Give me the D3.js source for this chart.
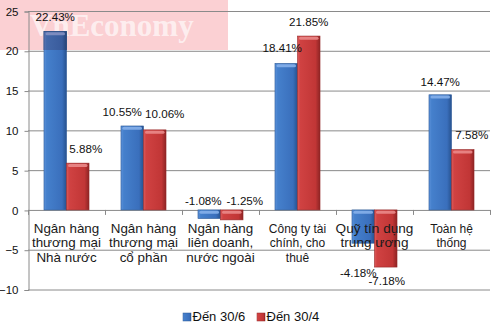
<!DOCTYPE html>
<html>
<head>
<meta charset="utf-8">
<script src="https://cdn.jsdelivr.net/npm/d3@7"></script>
<style>
  html, body { margin: 0; padding: 0; background: #fff; }
  svg { display: block; }
  text { font-family: "Liberation Sans", Arial, sans-serif; }
</style>
</head>
<body>
<svg id="chart" width="494" height="327"></svg>
<script>
// Categories (multi-line labels) and the two series, in percent
const categories = [
  "Ngân hàng|thương mại|Nhà nước",
  "Ngân hàng|thương mại|cổ phần",
  "Ngân hàng|liên doanh,|nước ngoài",
  "Công ty tài|chính, cho|thuê",
  "Quỹ tín dụng|trung ương",
  "Toàn hệ|thống"
];
const seriesNames = ["Đến 30/6", "Đến 30/4"];
const values306 = [22.43, 10.55, -1.08, 18.41, -4.18, 14.47];
const values304 = [5.88, 10.06, -1.25, 21.85, -7.18, 7.58];
const yTicks = [-10, -5, 0, 5, 10, 15, 20, 25];

// Label nudges (pixels) so the value labels sit clear of each other
const labelNudge = [
  [[0, -10], [-10, -10], [-6, null], [-4, -11], [-5, 34], [0, -9]],
  [[8, -10], [10, -12], [13, null], [0, -10], [1, 18], [9, -11]]
];
const catFontSize = [13.4, 13.4, 13.4, 12, 13.6, 12];

const svg = d3.select("#chart");
const margin = { left: 28, right: 4, top: 11, bottom: 37.5 };
const W = 494, H = 327;
const wm = { x: 0, y: 0, w: 228, h: 50, color: "#fbd0d3" };

const x0 = d3.scaleBand().domain(categories).range([margin.left, W - margin.right]).padding(0);
const x1 = d3.scaleBand().domain(seriesNames).range([0, x0.bandwidth()]).paddingInner(0).paddingOuter(0.71);
const y = d3.scaleLinear().domain([-10, 25]).range([H - margin.bottom, margin.top]);

// Gradients for the bevelled bars, plus versions washed by the pink band
const defs = svg.append("defs");
const wmRgb = d3.rgb(wm.color);
function multiply(c) {
  const r = d3.rgb(c);
  return d3.rgb(r.r * wmRgb.r / 255, r.g * wmRgb.g / 255, r.b * wmRgb.b / 255).formatHex();
}
function barGradient(id, stops) {
  const g = defs.append("linearGradient").attr("id", id).attr("x1", "0").attr("x2", "1").attr("y1", "0").attr("y2", "0");
  stops.forEach(([o, c]) => g.append("stop").attr("offset", o).attr("stop-color", c));
}
const gradStops = [
  [[0, "#5d92da"], [0.12, "#4580cc"], [0.8, "#3a6fbc"], [1, "#27528f"]],
  [[0, "#dc5a5a"], [0.12, "#d04242"], [0.8, "#c13636"], [1, "#8e2424"]]
];
gradStops.forEach((s, i) => {
  barGradient("g" + i, s);
  barGradient("t" + i, s.map(([o, c]) => [o, multiply(c)]));
});
const capColor = ["#86b0ea", "#ea8a8a"];
const edgeColor = ["#2b5896", "#952727"];
defs.append("clipPath").attr("id", "wmclip")
  .append("rect").attr("x", wm.x).attr("y", wm.y).attr("width", wm.w).attr("height", wm.h);

// Watermark band and its lettering sit under the plot
svg.append("rect").attr("x", wm.x).attr("y", wm.y).attr("width", wm.w).attr("height", wm.h)
  .attr("fill", wm.color);
svg.append("text")
  .attr("x", 30).attr("y", 36)
  .attr("font-weight", "bold").attr("font-size", 31)
  .attr("fill", "#ffffff").attr("fill-opacity", 0.65)
  .style("font-family", "'Liberation Serif', 'Times New Roman', serif")
  .text("VnEconomy");

// Gridlines
svg.append("g").selectAll("line").data(yTicks).join("line")
  .attr("x1", margin.left).attr("x2", W - margin.right)
  .attr("y1", d => y(d) + 0.5).attr("y2", d => y(d) + 0.5)
  .attr("stroke", "#8a8a8a").attr("stroke-width", 1);

// Left axis
const yAxis = d3.axisLeft(y).tickValues(yTicks).tickSize(4).tickPadding(6).tickFormat(d3.format("d"));
const ya = svg.append("g").attr("transform", `translate(${margin.left + 0.5},0.5)`).call(yAxis);
ya.select(".domain").attr("stroke", "#8a8a8a");
ya.selectAll(".tick line").attr("stroke", "#8a8a8a");
ya.selectAll(".tick text").attr("font-size", 11.5).attr("fill", "#111").attr("font-family", "Liberation Sans, Arial, sans-serif");

// Category separator ticks on the zero line
const bounds = categories.map(c => x0(c)).concat([W - margin.right]);
svg.append("g").selectAll("line").data(bounds).join("line")
  .attr("x1", d => Math.round(d) + 0.5).attr("x2", d => Math.round(d) + 0.5)
  .attr("y1", y(0)).attr("y2", y(0) + 5)
  .attr("stroke", "#8a8a8a");

// Bars
const series = [values306, values304];
series.forEach((vals, si) => {
  const g = svg.append("g");
  vals.forEach((v, ci) => {
    const cat = categories[ci];
    const bx = x0(cat) + x1(seriesNames[si]);
    const bw = x1.bandwidth();
    const top = y(Math.max(0, v));
    const bot = y(Math.min(0, v));
    const drawBar = (sel, fill, edge, cap) => {
      sel.append("rect")
        .attr("x", bx).attr("y", top).attr("width", bw).attr("height", bot - top)
        .attr("fill", fill).attr("stroke", edge).attr("stroke-width", 0.6);
      sel.append("rect")
        .attr("x", bx + 1.5).attr("y", top + 0.8).attr("width", bw - 3).attr("height", 3)
        .attr("rx", 1.5).attr("fill", cap).attr("opacity", 0.9);
    };
    drawBar(g, `url(#g${si})`, edgeColor[si], capColor[si]);
    // the part of a bar inside the pink band takes its wash
    const washed = g.append("g").attr("clip-path", "url(#wmclip)");
    drawBar(washed, `url(#t${si})`, multiply(edgeColor[si]), multiply(capColor[si]));
  });
});

// Value labels
series.forEach((vals, si) => {
  svg.append("g").selectAll("text").data(vals).join("text")
    .attr("text-anchor", "middle")
    .attr("font-size", 11.6).attr("fill", "#111")
    .attr("x", (d, i) => x0(categories[i]) + x1(seriesNames[si]) + x1.bandwidth() / 2 + labelNudge[si][i][0])
    .attr("y", (d, i) => {
      const n = labelNudge[si][i];
      if (n[1] === null) return y(0) - 4.5;
      return y(d) + n[1];
    })
    .text(d => d.toFixed(2) + "%");
});

// Category labels
categories.forEach((c, i) => {
  const lines = c.split("|");
  const cx = x0(c) + x0.bandwidth() / 2;
  const t = svg.append("text")
    .attr("text-anchor", "middle")
    .attr("font-size", catFontSize[i]).attr("fill", "#1a1a1a")
    .attr("x", cx).attr("y", 232.5);
  lines.forEach((l, k) => {
    t.append("tspan").attr("x", cx).attr("dy", k === 0 ? 0 : 14.8).text(l);
  });
});

// Legend
const legend = svg.append("g");
const legendX = [183, 257];
seriesNames.forEach((s, si) => {
  legend.append("rect").attr("x", legendX[si]).attr("y", 313).attr("width", 8).attr("height", 8)
    .attr("fill", `url(#g${si})`).attr("stroke", edgeColor[si]).attr("stroke-width", 0.5);
  legend.append("text").attr("x", legendX[si] + 9.5).attr("y", 321)
    .attr("font-size", 13).attr("fill", "#111").text(s);
});
</script>
</body>
</html>
